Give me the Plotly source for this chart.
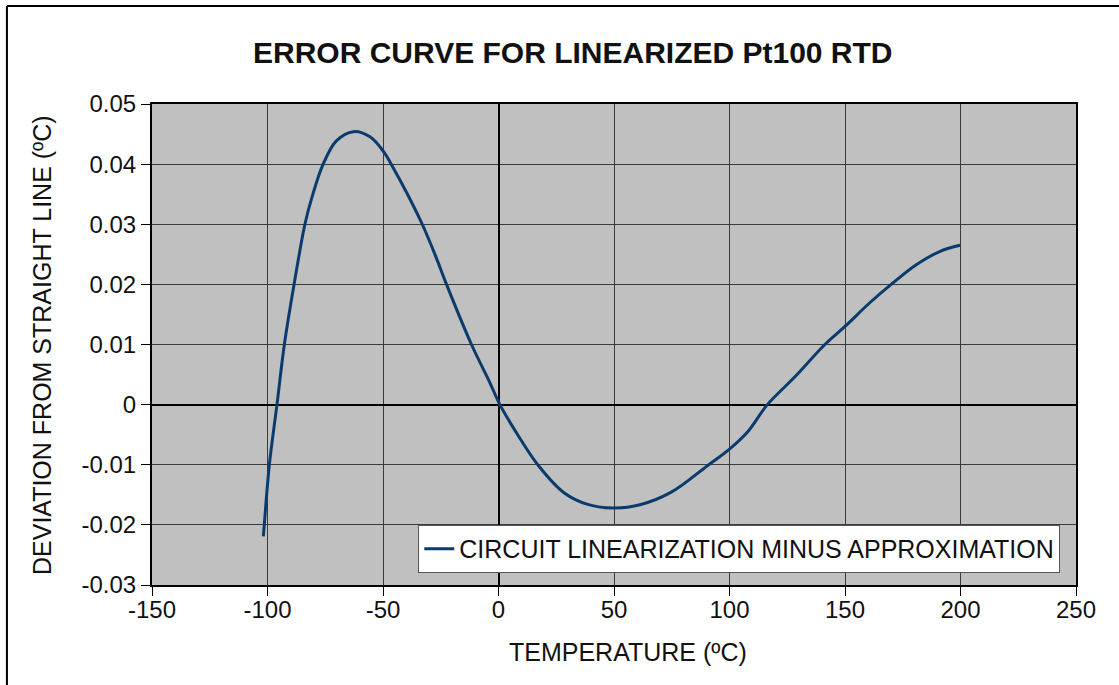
import plotly.graph_objects as go

# temperature (degC) and deviation from straight line (degC)
temp = [-101.8, -101.4, -99.2, -95.9, -92.7, -88.5, -83.8, -80.9, -75.9, -70.1,
        -62.8, -55.5, -49.6, -45.3, -39.4, -33, -27, -22.5, -11.7, -3.9, 0.6,
        8.3, 17, 28.5, 38.6, 50, 61.7, 74.6, 90.3, 100, 107.7, 116.4, 128, 141.3,
        150, 160.6, 170, 181, 191.2, 199.8]
deviation = [-0.0219, -0.02, -0.01, 0.0, 0.01, 0.02, 0.03, 0.0343, 0.04, 0.0439,
             0.0454, 0.0445, 0.042, 0.0392, 0.035, 0.03, 0.0245, 0.02, 0.01, 0.0038,
             0.0, -0.005, -0.01, -0.0147, -0.0166, -0.0172, -0.0166, -0.0146, -0.0102,
             -0.0074, -0.0046, 0.0, 0.0045, 0.01, 0.013, 0.0169, 0.02, 0.0233, 0.0255,
             0.0265]

x_ticks = [-150, -100, -50, 0, 50, 100, 150, 200, 250]
y_ticks = [0.05, 0.04, 0.03, 0.02, 0.01, 0, -0.01, -0.02, -0.03]
y_tick_text = ["0.05", "0.04", "0.03", "0.02", "0.01", "0", "-0.01", "-0.02", "-0.03"]
x_tick_text = [str(v) for v in x_ticks]

FONT = "Liberation Sans, Arial, sans-serif"
INK = "#111111"

fig = go.Figure(go.Scatter(
    x=temp, y=deviation, mode="lines", line_shape="spline",
    line=dict(color="#0b3b6c", width=3, smoothing=1.0),
    name="CIRCUIT LINEARIZATION MINUS APPROXIMATION",
))

axis_common = dict(
    showgrid=True, gridcolor="#3a3a3a", gridwidth=1,
    zeroline=True, zerolinecolor="#000000", zerolinewidth=2,
    showline=True, linecolor="#000000", linewidth=2, mirror=True,
    ticks="outside", ticklen=9, tickcolor="#000000", tickwidth=1,
    tickfont=dict(size=24, color=INK, family=FONT),
)

fig.update_xaxes(range=[-150, 250], tickvals=x_ticks, ticktext=x_tick_text,
                 ticklabelstandoff=-7, **axis_common)
fig.update_yaxes(range=[-0.03, 0.05], tickvals=y_ticks, ticktext=y_tick_text, **axis_common)

fig.update_layout(
    width=1119, height=685,
    margin=dict(l=152, r=43, t=104, b=100),
    paper_bgcolor="white", plot_bgcolor="#c0c0c0",
    font=dict(family=FONT, color=INK),
    showlegend=True,
    legend=dict(x=0.983, xanchor="right", y=0.025, yanchor="bottom",
                bgcolor="white", bordercolor="#555555", borderwidth=1,
                font=dict(size=25, family=FONT, color=INK)),
    annotations=[
        dict(text="<b>ERROR CURVE FOR LINEARIZED Pt100 RTD</b>", xref="paper", yref="paper",
             x=0.4556, y=1.108, xanchor="center", yanchor="middle", showarrow=False,
             font=dict(size=30, family=FONT, color=INK)),
        dict(text="TEMPERATURE (ºC)", xref="paper", yref="paper",
             x=0.515, y=-0.139, xanchor="center", yanchor="middle", showarrow=False,
             font=dict(size=25, family=FONT, color=INK)),
        dict(text="DEVIATION FROM STRAIGHT LINE (ºC)", xref="paper", yref="paper",
             x=-0.119, y=0.499, xanchor="center", yanchor="middle", showarrow=False,
             textangle=-90, font=dict(size=25, family=FONT, color=INK)),
    ],
    shapes=[
        dict(type="line", xref="paper", yref="paper", x0=-0.157, x1=-0.157,
             y0=-0.25, y1=1.2037, line=dict(color="black", width=2)),
        dict(type="line", xref="paper", yref="paper", x0=-0.157, x1=1.1,
             y0=1.2037, y1=1.2037, line=dict(color="black", width=2)),
    ],
)

fig.write_html("out.html", config={"displayModeBar": False},
               post_script="document.body.style.margin='0';")
